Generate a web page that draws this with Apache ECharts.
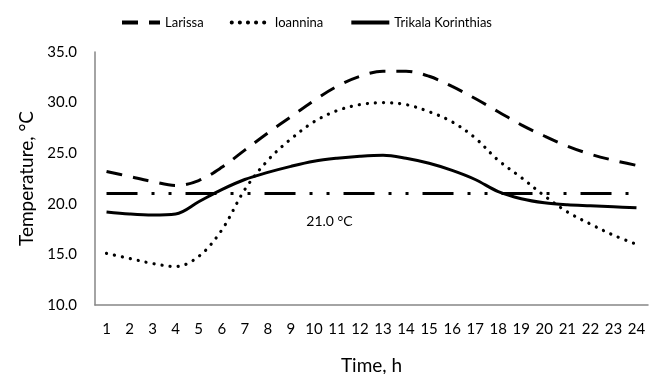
<!DOCTYPE html>
<html><head><meta charset="utf-8">
<script src="https://cdn.jsdelivr.net/npm/echarts@6/dist/echarts.min.js"></script>
<style>html,body{margin:0;padding:0;background:#fff}#c{width:659px;height:374px}</style>
</head><body><div id="c"></div>
<script>
const hours = ['1','2','3','4','5','6','7','8','9','10','11','12','13','14','15','16','17','18','19','20','21','22','23','24'];
const larissa = [23.2, 22.7, 22.2, 21.8, 22.3, 23.6, 25.3, 27.0, 28.6, 30.2, 31.6, 32.6, 33.1, 33.1, 32.6, 31.6, 30.4, 29.1, 27.8, 26.7, 25.7, 24.9, 24.3, 23.8];
const ioannina = [15.1, 14.6, 14.1, 13.8, 14.8, 17.4, 21.4, 24.3, 26.4, 28.1, 29.2, 29.8, 30.0, 29.8, 29.1, 28.1, 26.5, 24.3, 22.6, 20.8, 19.2, 18.0, 16.9, 16.0];
const trikala = [19.2, 19.0, 18.9, 19.0, 20.2, 21.4, 22.4, 23.1, 23.7, 24.2, 24.5, 24.7, 24.8, 24.5, 24.0, 23.3, 22.4, 21.2, 20.5, 20.1, 19.9, 19.8, 19.7, 19.6];
const refValue = 21.0;
const seriesNames = ['Larissa', 'Ioannina', 'Trikala Korinthias'];
const yTicks = {min: 10, max: 35, interval: 5};

const FONT = 'Lato';
const chart = echarts.init(document.getElementById('c'));
chart.setOption({
  animation: false,
  textStyle: {fontFamily: FONT},
  grid: {left: 95, right: 11, top: 52, bottom: 69, containLabel: false, outerBoundsMode: 'none'},
  legend: {
    top: 11, left: 115, itemWidth: 38, itemHeight: 14, itemGap: 26,
    itemStyle: {opacity: 0},
    lineStyle: {width: 4},
    textStyle: {fontFamily: FONT, fontSize: 13, color: '#000'},
    data: seriesNames
  },
  xAxis: {
    type: 'category', data: hours, boundaryGap: true,
    name: 'Time, h', nameLocation: 'middle', nameGap: 51,
    nameTextStyle: {fontFamily: FONT, fontSize: 19, color: '#000'},
    axisLine: {lineStyle: {color: '#868686', width: 1.5}},
    axisTick: {show: false},
    axisLabel: {interval: 0, margin: 17, fontFamily: FONT, fontSize: 15, color: '#000'}
  },
  yAxis: {
    type: 'value', min: yTicks.min, max: yTicks.max, interval: yTicks.interval,
    name: 'Temperature, °C', nameLocation: 'middle', nameGap: 57, nameRotate: 90,
    nameTextStyle: {fontFamily: FONT, fontSize: 19, color: '#000'},
    axisLine: {show: true, lineStyle: {color: '#868686', width: 1.5}},
    axisTick: {show: false},
    splitLine: {show: false},
    axisLabel: {margin: 18, fontFamily: FONT, fontSize: 15, color: '#000', formatter: v => v.toFixed(1)}
  },
  series: [
    {name: seriesNames[0], type: 'line', data: larissa, smooth: 0.35, symbol: 'none',
     lineStyle: {color: '#000', width: 3, type: [16, 11]}, itemStyle: {color: '#000'},
     markLine: {
       silent: true, symbol: 'none',
       lineStyle: {color: '#000', width: 3, type: [31, 14, 3, 14, 3, 14]},
       label: {show: true, position: 'middle', formatter: refValue.toFixed(1) + ' °C', fontFamily: FONT, fontSize: 14, color: '#000', offset: [-42, 40]},
       data: [[{coord: [hours[0], refValue]}, {coord: [hours[hours.length - 1], refValue]}]]
     }},
    {name: seriesNames[1], type: 'line', data: ioannina, smooth: 0.35, symbol: 'none',
     lineStyle: {color: '#000', width: 3.2, type: [0.1, 8], cap: 'round'}, itemStyle: {color: '#000'}},
    {name: seriesNames[2], type: 'line', data: trikala, smooth: 0.35, symbol: 'none',
     lineStyle: {color: '#000', width: 3}, itemStyle: {color: '#000'}}
  ]
});
</script></body></html>
